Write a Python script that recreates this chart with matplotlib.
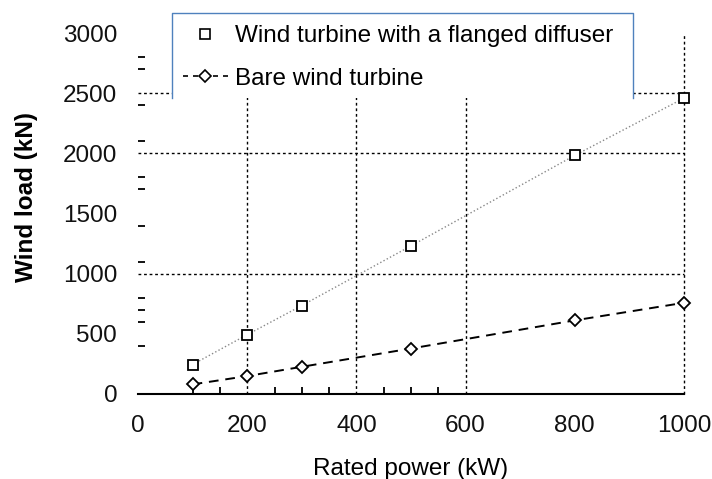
import matplotlib
matplotlib.use('Agg')
import matplotlib.pyplot as plt
from matplotlib.lines import Line2D
from matplotlib.patches import Rectangle
import numpy as np

plt.rcParams['font.family'] = ['Liberation Sans', 'DejaVu Sans']

# data
power = [100, 200, 300, 500, 800, 1000]
flanged = [245, 493, 735, 1231, 1983, 2459]
bare = [80, 149, 226, 378, 612, 758]

xgrid = [200, 400, 600, 1000]
ygrid = [1000, 2000, 2500]
yminor = [400, 600, 700, 800, 1000, 1100, 1400, 1700, 1800, 2000, 2100, 2400, 2500, 2700, 2800]
xminor = [100, 150, 200, 250, 300, 350, 400, 450, 500, 550]

fs = 17.5
W, H = 712, 479
fig = plt.figure(figsize=(W / 100, H / 100), dpi=100)
ax = fig.add_axes([138 / W, 1 - 394 / H, 546 / W, 361 / H])

# grid, only some lines like the original
for xv in xgrid:
    ax.plot([xv, xv], [0, 3000], color='black', lw=1, ls=(0, (2, 2)), zorder=1, clip_on=False)
for yv in ygrid:
    ax.plot([0, 1000], [yv, yv], color='black', lw=1, ls=(0, (2, 2)), zorder=1, clip_on=False)

ax.plot(power, flanged, color='#888888', lw=1, ls=':', marker='s', ms=7,
        mfc='white', mec='black', mew=1.3, zorder=3, clip_on=False)
ax.plot(power, bare, color='black', lw=1.4, ls=(0, (5, 3.5)), marker='D', ms=6.5,
        mfc='white', mec='black', mew=1.3, zorder=3, clip_on=False)

ax.set_xlim(0, 1000)
ax.set_ylim(0, 3000)
ax.set_xticks([0, 200, 400, 600, 800, 1000])
ax.set_yticks(np.arange(0, 3001, 500))
ax.set_xticks(xminor, minor=True)
ax.set_yticks(yminor, minor=True)
ax.tick_params(which='major', length=0, labelsize=fs, colors='#111111')
ax.tick_params(axis='x', which='major', pad=15)
ax.tick_params(axis='y', which='major', pad=15)
ax.tick_params(which='minor', direction='in', length=5, width=1.3, color='black')

for s in ['top', 'right', 'left']:
    ax.spines[s].set_visible(False)
ax.spines['bottom'].set_linewidth(1.5)

ax.set_xlabel('Rated power (kW)', fontsize=fs)
ax.xaxis.set_label_coords(0.5, -0.177)
ax.set_ylabel('Wind load (kN)', fontsize=fs, fontweight='bold')
ax.yaxis.set_label_coords(-0.183, 0.545)

# legend box, open at the bottom
tf = fig.transFigure
x0, x1 = 172 / W, 633 / W
y0, y1 = 1 - 98 / H, 1 - 13 / H
ax.add_patch(Rectangle((x0, y0), x1 - x0, y1 - y0, transform=tf, facecolor='white',
                       edgecolor='none', clip_on=False, zorder=4))
ax.add_line(Line2D([x0, x0, x1, x1], [y0, y1, y1, y0], transform=tf, color='#4F81BD',
                   lw=1, clip_on=False, zorder=4.5))

handles = [Line2D([], [], ls='none', marker='s', ms=7, mfc='white', mec='black', mew=1.2),
           Line2D([], [], color='black', lw=1.2, ls=(0, (3, 3)), marker='D', ms=6,
                  mfc='white', mec='black', mew=1.2)]
leg = ax.legend(handles, ['Wind turbine with a flanged diffuser', 'Bare wind turbine'],
                loc='upper left', bbox_to_anchor=(183 / W, 1 - 25 / H),
                bbox_transform=tf, frameon=False, fontsize=fs, handlelength=1.85,
                handletextpad=0.3, labelspacing=0.85, borderpad=0, borderaxespad=0)
leg.set_zorder(5)

fig.savefig('out.png', dpi=100)
